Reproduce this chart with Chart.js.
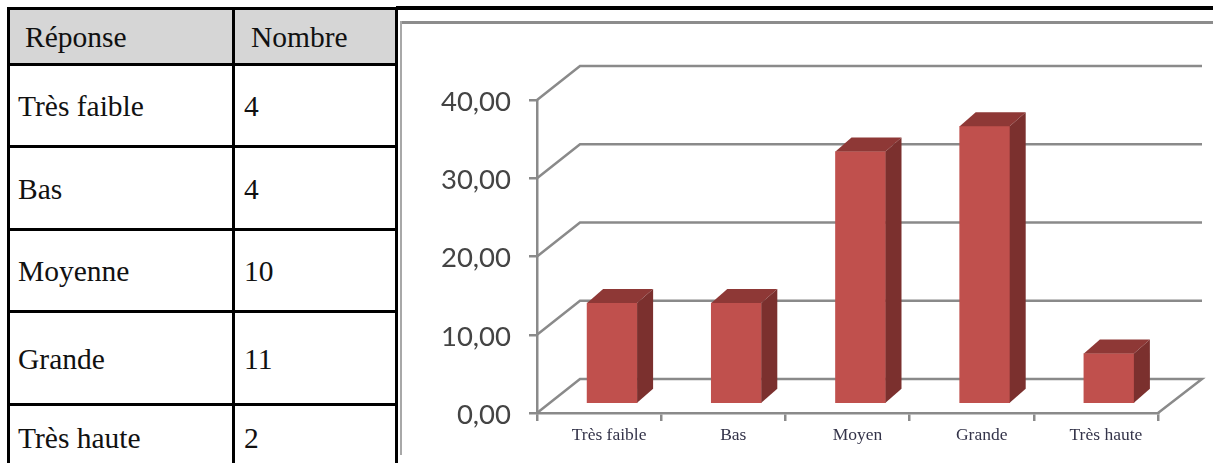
<!DOCTYPE html>
<html lang="fr">
<head>
<meta charset="utf-8">
<title>Réponse / Nombre</title>
<script src="https://cdn.jsdelivr.net/npm/chart.js@4"></script>
<style>
  html, body { margin:0; padding:0; background:#fff; overflow:hidden; width:1213px; height:463px; }
  #topLine { position:absolute; left:396px; top:6px; width:817px; height:4px; background:#000; }
  #panelTop { position:absolute; left:400px; top:21px; width:813px; height:3px; background:#8c8c8c; }
  #panelLeft { position:absolute; left:400px; top:21px; width:2px; height:434px; background:#a8a8a8; }
  #tbl { position:absolute; left:7px; top:7px; border-collapse:collapse; table-layout:fixed; width:388px;
         font-family:"Liberation Serif", serif; font-size:29.5px; color:#111; }
  #tbl th, #tbl td { border:3px solid #000; padding:2px 0 0 8px; text-align:left; font-weight:normal; box-sizing:border-box; }
  #tbl th { background:#d6d6d6; height:56px; padding-left:15px; }
  #tbl td { height:82px; }
  #tbl tr:nth-child(2) td { height:83px; }
  #tbl tr:nth-child(4) td { height:93px; }
  #tbl tr:nth-child(5) td { height:66px; }
  #tbl td:nth-child(2) { padding-left:9px; }
  #tbl th:nth-child(2) { padding-left:16px; }
  #chart { position:absolute; left:402px; top:24px; }
</style>
</head>
<body>
<div id="topLine"></div>
<div id="panelTop"></div>
<div id="panelLeft"></div>
<table id="tbl"><colgroup><col style="width:225px"><col style="width:163px"></colgroup><thead></thead><tbody></tbody></table>
<canvas id="chart" width="811" height="439"></canvas>
<script>
// table data
const headers = ['Réponse', 'Nombre'];
const responses = ['Très faible', 'Bas', 'Moyenne', 'Grande', 'Très haute'];
const counts = [4, 4, 10, 11, 2];

// chart data
const categories = ['Très faible', 'Bas', 'Moyen', 'Grande', 'Très haute'];
const percents = [12.9, 12.9, 32.26, 35.48, 6.45];
const yTicks = [0, 10, 20, 30, 40];

document.querySelector('#tbl thead').innerHTML =
  '<tr>' + headers.map(h => '<th>' + h + '</th>').join('') + '</tr>';
document.querySelector('#tbl tbody').innerHTML =
  responses.map((r, i) => '<tr><td>' + r + '</td><td>' + counts[i] + '</td></tr>').join('');

const GRID = '#8a8a8a';
// fake 3d: how far the back wall sits from the axes, and the bar depth
const WALL_DX = 43, WALL_DY = -34, WALL_END = 800;
const BAR_DX = 13, BAR_DY = -9, DEPTH_X = 16, DEPTH_Y = -14;

const walls = {
  id: 'walls',
  beforeDatasetsDraw(chart) {
    const { ctx, scales: { x, y } } = chart;
    ctx.save();
    ctx.strokeStyle = GRID;
    ctx.lineWidth = 2.5;
    yTicks.forEach(v => {
      const py = y.getPixelForValue(v);
      ctx.beginPath();
      ctx.moveTo(x.left, py);
      ctx.lineTo(x.left + WALL_DX, py + WALL_DY);
      ctx.lineTo(WALL_END, py + WALL_DY);
      if (v === 0) ctx.lineTo(x.right, py);
      ctx.stroke();
    });
    ctx.restore();
  }
};

const bars3d = {
  id: 'bars3d',
  beforeDatasetDraw(chart) {
    chart.ctx.save();
    chart.ctx.translate(BAR_DX, BAR_DY);
  },
  afterDatasetDraw(chart, args) {
    const ctx = chart.ctx;
    args.meta.data.forEach(bar => {
      const l = bar.x - bar.width / 2, r = bar.x + bar.width / 2;
      ctx.fillStyle = '#8e3836';
      ctx.beginPath();
      ctx.moveTo(l, bar.y);
      ctx.lineTo(l + DEPTH_X, bar.y + DEPTH_Y);
      ctx.lineTo(r + DEPTH_X, bar.y + DEPTH_Y);
      ctx.lineTo(r, bar.y);
      ctx.closePath();
      ctx.fill();
      ctx.fillStyle = '#7b302e';
      ctx.beginPath();
      ctx.moveTo(r, bar.y);
      ctx.lineTo(r + DEPTH_X, bar.y + DEPTH_Y);
      ctx.lineTo(r + DEPTH_X, bar.base + DEPTH_Y);
      ctx.lineTo(r, bar.base);
      ctx.closePath();
      ctx.fill();
    });
    ctx.restore();
  }
};

new Chart(document.getElementById('chart').getContext('2d'), {
  type: 'bar',
  data: {
    labels: categories,
    datasets: [{ data: percents, backgroundColor: '#c0504d', barThickness: 50, clip: false }]
  },
  options: {
    responsive: false,
    animation: false,
    layout: { padding: { top: 76, right: 55 } },
    plugins: { legend: { display: false }, tooltip: { enabled: false } },
    scales: {
      x: {
        offset: true,
        afterFit: s => { s.height = 50; },
        border: { color: GRID, width: 2.5 },
        grid: { offset: true, drawOnChartArea: false, color: GRID, lineWidth: 2.5, tickLength: 8 },
        ticks: {
          font: { family: '"Liberation Serif", serif', size: 17.5 },
          color: '#34344a',
          padding: 4,
          labelOffset: 10,
          maxRotation: 0
        }
      },
      y: {
        min: 0, max: 40,
        afterFit: s => { s.width = 135; },
        afterBuildTicks: s => { s.ticks = yTicks.map(v => ({ value: v })); },
        border: { color: GRID, width: 2.5 },
        grid: { drawOnChartArea: false, color: GRID, lineWidth: 2.5, tickLength: 8 },
        ticks: {
          font: { family: 'Lato, sans-serif', size: 27.5 },
          color: '#444',
          padding: 18,
          labelOffset: 2,
          callback: v => v.toFixed(2).replace('.', ',')
        }
      }
    }
  },
  plugins: [walls, bars3d]
});
</script>
</body>
</html>
